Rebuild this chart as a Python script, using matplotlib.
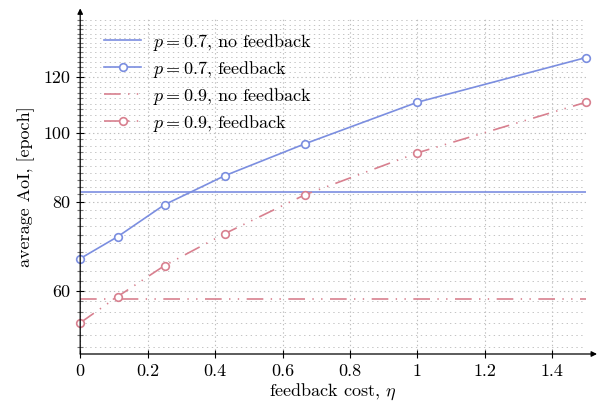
import numpy as np
import matplotlib
matplotlib.use("Agg")
import matplotlib.pyplot as plt
from matplotlib.ticker import FixedLocator, FixedFormatter, NullFormatter
from matplotlib.legend_handler import HandlerLine2D

plt.rcParams['font.family'] = ['cmr10', 'DejaVu Serif']
plt.rcParams['mathtext.fontset'] = 'cm'
plt.rcParams['axes.formatter.use_mathtext'] = True
plt.rcParams['lines.scale_dashes'] = False

# ---- data ----
eta = [0, 1/9, 1/4, 3/7, 2/3, 1.0, 1.5]
aoi_p07_fb = [66.6, 71.5, 79.3, 87.1, 96.6, 110.5, 127.7]
aoi_p09_fb = [54.1, 58.9, 65.1, 72.2, 81.9, 93.8, 110.5]
aoi_p07_nofb = 82.5
aoi_p09_nofb = 58.4

xticks = [0, 0.2, 0.4, 0.6, 0.8, 1.0, 1.2, 1.4]
xticklabels = ["0", "0.2", "0.4", "0.6", "0.8", "1", "1.2", "1.4"]
yticks = [60, 80, 100, 120]
yticklabels = ["60", "80", "100", "120"]
yminor = [v for v in range(50, 145, 2) if v not in yticks]

blue = '#7b8ee0'
red = '#d8808f'
ddd = (0, (12, 5.3, 1, 5.3, 1, 5.4))
fs = 13

fig = plt.figure(figsize=(6.02, 4.07), dpi=100)
ax = fig.add_axes([80.2/602, 53/407, (586-80.2)/602, (354-19.4)/407])

ax.set_yscale('log')
ax.set_xlim(0, 1.5)
ax.set_ylim(48.9, 144.5)

ax.plot([0, 1.5], [aoi_p07_nofb]*2, color=blue, lw=1.2, label=r'$p = 0.7$, no feedback')
ax.plot(eta, aoi_p07_fb, color=blue, lw=1.2, marker='o', ms=5.5, mfc='white', mew=1.2,
        label=r'$p = 0.7$, feedback', clip_on=False, zorder=3)
ax.plot([0, 1.5], [aoi_p09_nofb]*2, color=red, lw=1.2, ls=ddd, label=r'$p = 0.9$, no feedback')
ax.plot(eta, aoi_p09_fb, color=red, lw=1.2, ls=ddd, marker='o', ms=5.5, mfc='white', mew=1.2,
        label=r'$p = 0.9$, feedback', clip_on=False, zorder=3)

ax.xaxis.set_major_locator(FixedLocator(xticks))
ax.xaxis.set_major_formatter(FixedFormatter(xticklabels))
ax.xaxis.set_minor_locator(FixedLocator([]))
ax.yaxis.set_major_locator(FixedLocator(yticks))
ax.yaxis.set_major_formatter(FixedFormatter(yticklabels))
ax.yaxis.set_minor_locator(FixedLocator(yminor))
ax.yaxis.set_minor_formatter(NullFormatter())

ax.tick_params(axis='both', which='major', direction='inout', length=6, width=0.8,
               labelsize=fs, color='black')
ax.tick_params(axis='y', which='minor', direction='inout', length=5, width=0.8, color='#777777')
ax.tick_params(axis='x', which='major', pad=4)
ax.tick_params(axis='y', which='major', pad=4)

ax.grid(True, which='major', axis='both', color='#bfbfbf', lw=0.8, ls=(0, (1, 2)))
ax.grid(True, which='minor', axis='y', color='#c4c4c4', lw=0.7, ls=(0, (1, 2.5)))
ax.set_axisbelow(True)

for s in ax.spines.values():
    s.set_visible(False)
ax.annotate('', xy=(0, 1 + 11/334.6), xytext=(0, 0), xycoords='axes fraction',
            arrowprops=dict(arrowstyle='-|>', lw=0.9, color='black', mutation_scale=8,
                            shrinkA=0, shrinkB=0))
ax.annotate('', xy=(1 + 11/505.8, 0), xytext=(0, 0), xycoords='axes fraction',
            arrowprops=dict(arrowstyle='-|>', lw=0.9, color='black', mutation_scale=8,
                            shrinkA=0, shrinkB=0))

ax.set_xlabel(r'feedback cost, $\eta$', fontsize=fs, labelpad=2)
ax.set_ylabel('average AoI, [epoch]', fontsize=fs, labelpad=6)


class MarkerRight(HandlerLine2D):
    def get_xdata(self, legend, xdescent, ydescent, width, height, fontsize):
        xdata = np.array([-xdescent, -xdescent + width])
        return xdata, np.array([-xdescent + 0.78 * width])


leg = ax.legend(loc='upper left', bbox_to_anchor=(0.033, 0.985), frameon=False,
                fontsize=fs, handlelength=2.05, handletextpad=0.65, labelspacing=0.33,
                borderaxespad=0, handler_map={matplotlib.lines.Line2D: MarkerRight()})

fig.savefig('out.png', dpi=100)
